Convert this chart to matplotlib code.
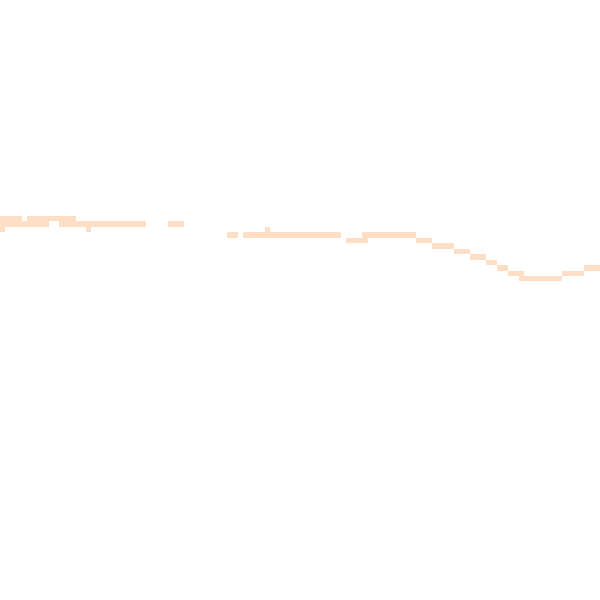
import numpy as np
import matplotlib
matplotlib.use("Agg")
import matplotlib.pyplot as plt

# pixelated trace: each run is (start column, end column) on one row level
row_level = [0, 0,
             1, 1, 1,
             2, 2, 2,
             3, 3, 3,
             4, 4,
             5, 6, 7, 8,
             9, 9,
             10, 10,
             11]
run_start = [0.0, 5.0,
             0.0, 10.9, 30.8,
             0.0, 15.8, 48.6,
             41.6, 44.5, 66.4,
             63.4, 76.3,
             79.2, 83.2, 86.2, 89.1,
             91.1, 107.1,
             93.1, 103.0,
             95.1]
run_end = [4.0, 13.9,
           8.9, 26.8, 33.7,
           0.9, 16.7, 49.5,
           43.6, 62.5, 76.3,
           67.5, 79.2,
           83.2, 86.2, 89.1, 91.1,
           93.1, 110.0,
           96.1, 107.0,
           103.0]

color = "#FFDEC6"

fig = plt.figure(figsize=(6, 6), dpi=100)
ax = fig.add_axes([0, 0, 1, 1])

start = np.array(run_start)
width = np.array(run_end) - start
ax.barh(np.array(row_level) + 0.5, width, left=start, height=1.0,
        color=color, linewidth=0, antialiased=False)

ax.set_xlim(0, 110)
ax.set_ylim(70.4, -39.6)
ax.axis("off")

fig.savefig("out.png", dpi=100, facecolor="white")
